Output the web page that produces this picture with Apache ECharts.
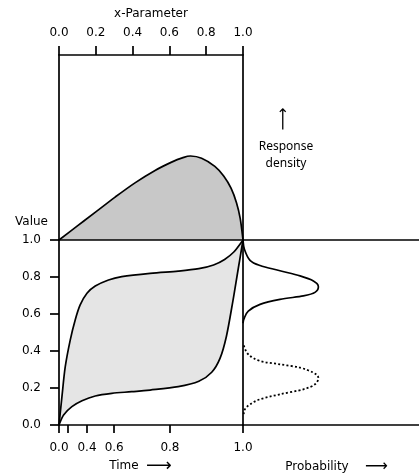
<!DOCTYPE html>
<html><head><meta charset="utf-8">
<script src="https://cdn.jsdelivr.net/npm/echarts@6/dist/echarts.min.js"></script>
<style>html,body{margin:0;padding:0;background:#fff}#c{width:419px;height:474px}</style>
</head><body><div id="c"></div>
<script>
// Time axis: tick positions (on the 0..1 drawing scale) and their labels
const timeTickPos = [0, 0.05, 0.152, 0.30, 0.603, 1.0];
const timeTickLabels = ['0.0', '0.2', '0.4', '0.6', '0.8', '1.0'];
const timeLabelPos = [0, 0.152, 0.30, 0.603, 1.0];
const valueTicks = [0, 0.2, 0.4, 0.6, 0.8, 1.0];

// Top panel: response density over x-Parameter
const topX = [0, 0.100, 0.200, 0.305, 0.413, 0.522, 0.612, 0.670, 0.715, 0.775, 0.847, 0.895, 0.935, 0.965, 0.985, 1];
const topY = [0, 0.076, 0.152, 0.232, 0.309, 0.376, 0.421, 0.444, 0.454, 0.442, 0.398, 0.346, 0.280, 0.200, 0.115, 0];

// Bottom panel: upper and lower value curves over time
const upperX = [0, 0.016, 0.034, 0.061, 0.088, 0.115, 0.152, 0.197, 0.269, 0.341, 0.495, 0.648, 0.760, 0.840, 0.900, 0.950, 1];
const upperY = [0, 0.153, 0.315, 0.459, 0.568, 0.649, 0.712, 0.751, 0.784, 0.802, 0.820, 0.832, 0.845, 0.865, 0.895, 0.935, 1];
const lowerX = [0, 0.025, 0.070, 0.125, 0.197, 0.287, 0.395, 0.495, 0.648, 0.760, 0.830, 0.875, 0.910, 0.945, 0.975, 1];
const lowerY = [0, 0.054, 0.099, 0.131, 0.157, 0.171, 0.180, 0.189, 0.207, 0.236, 0.285, 0.360, 0.480, 0.670, 0.850, 1];

// Right panel: response probability densities over value
const solidD = [0, 0.008, 0.040, 0.097, 0.210, 0.324, 0.400, 0.428, 0.409, 0.343, 0.210, 0.097, 0.030, 0.006, 0];
const solidV = [1.0, 0.950, 0.890, 0.862, 0.834, 0.806, 0.779, 0.751, 0.717, 0.698, 0.679, 0.652, 0.616, 0.575, 0.55];
const dotD = [0.004, 0.030, 0.097, 0.210, 0.324, 0.400, 0.428, 0.409, 0.343, 0.210, 0.097, 0.040, 0.011, 0.004];
const dotV = [0.430, 0.382, 0.346, 0.328, 0.310, 0.283, 0.256, 0.220, 0.193, 0.166, 0.139, 0.112, 0.085, 0.060];

const zip = (a, b) => a.map((v, i) => [v, b[i]]);
const FONT = 'DejaVu Sans';
const LW = 1.7;

// Catmull-Rom spline through pixel points, as bezier path segments
function splineSegs(pts) {
  let d = '';
  for (let i = 0; i < pts.length - 1; i++) {
    const p0 = pts[i - 1] || pts[i], p1 = pts[i], p2 = pts[i + 1], p3 = pts[i + 2] || p2;
    const c1 = [p1[0] + (p2[0] - p0[0]) / 6, p1[1] + (p2[1] - p0[1]) / 6];
    const c2 = [p2[0] - (p3[0] - p1[0]) / 6, p2[1] - (p3[1] - p1[1]) / 6];
    d += ' C' + c1[0] + ' ' + c1[1] + ' ' + c2[0] + ' ' + c2[1] + ' ' + p2[0] + ' ' + p2[1];
  }
  return d;
}
const moveTo = p => 'M' + p[0] + ' ' + p[1];
const toPx = (api, xs, ys) => xs.map((x, i) => api.coord([x, ys[i]]));

// One custom series per panel: each draws its curves from the arrays via the axes' scales
function panelSeries(xi, yi, data, build) {
  return {
    type: 'custom', xAxisIndex: xi, yAxisIndex: yi, data, clip: false, silent: true,
    renderItem: (params, api) => params.dataIndex === 0 ? { type: 'group', children: build(api) } : { type: 'group', children: [] }
  };
}

const chart = echarts.init(document.getElementById('c'), null, { renderer: 'canvas' });
const lineOnly = (extra) => Object.assign({
  type: 'value', min: 0, max: 1, z: 10,
  axisLine: { show: true, onZero: false, lineStyle: { color: '#000', width: LW } },
  axisTick: { show: false }, axisLabel: { show: false }, splitLine: { show: false }
}, extra);

chart.setOption({
  animation: false,
  backgroundColor: '#fff',
  grid: [
    { left: 59, top: 240, width: 184, height: 185, outerBoundsMode: 'none' },
    { left: 59, top: 55, width: 184, height: 185, outerBoundsMode: 'none' },
    { left: 243, top: 240, width: 176, height: 185, outerBoundsMode: 'none' }
  ],
  xAxis: [
    {
      gridIndex: 0, type: 'value', position: 'bottom', min: 0, max: 1, z: 10,
      axisLine: { show: true, onZero: false, lineStyle: { color: '#000', width: LW } },
      axisTick: { show: true, customValues: timeTickPos, length: 8, lineStyle: { color: '#000', width: LW } },
      axisLabel: {
        show: true, customValues: timeLabelPos, margin: 17, color: '#000', fontFamily: FONT, fontSize: 12,
        formatter: v => {
          let best = 0;
          timeTickPos.forEach((p, i) => { if (Math.abs(p - v) < Math.abs(timeTickPos[best] - v)) best = i; });
          return timeTickLabels[best];
        }
      },
      splitLine: { show: false }
    },
    {
      gridIndex: 1, type: 'value', position: 'top', min: 0, max: 1, interval: 0.2, z: 10,
      name: 'x-Parameter', nameLocation: 'middle', nameGap: 35,
      nameTextStyle: { color: '#000', fontFamily: FONT, fontSize: 12 },
      axisLine: { show: true, onZero: false, lineStyle: { color: '#000', width: LW } },
      axisTick: { show: true, length: 9, lineStyle: { color: '#000', width: LW } },
      axisLabel: { show: true, margin: 16, color: '#000', fontFamily: FONT, fontSize: 12, formatter: v => v.toFixed(1) },
      splitLine: { show: false }
    },
    lineOnly({ gridIndex: 1, position: 'bottom' }),
    lineOnly({ gridIndex: 2, position: 'bottom' }),
    lineOnly({ gridIndex: 2, position: 'top' })
  ],
  yAxis: [
    {
      gridIndex: 0, type: 'value', position: 'left', min: 0, max: 1, interval: 0.2, z: 10,
      name: 'Value', nameLocation: 'end', nameGap: 12,
      nameTextStyle: { color: '#000', fontFamily: FONT, fontSize: 12, align: 'right', padding: [0, 11, 0, 0] },
      axisLine: { show: true, onZero: false, lineStyle: { color: '#000', width: LW } },
      axisTick: { show: true, customValues: valueTicks, length: 9, lineStyle: { color: '#000', width: LW } },
      axisLabel: { show: true, customValues: valueTicks, margin: 18, color: '#000', fontFamily: FONT, fontSize: 12, formatter: v => v.toFixed(1) },
      splitLine: { show: false }
    },
    lineOnly({ gridIndex: 0, position: 'right' }),
    lineOnly({ gridIndex: 1, position: 'left' }),
    lineOnly({ gridIndex: 1, position: 'right' }),
    lineOnly({ gridIndex: 2, position: 'left', axisLine: { show: false } })
  ],
  series: [
    panelSeries(1, 2, zip(topX, topY), api => {
      const p = toPx(api, topX, topY);
      const curveD = moveTo(p[0]) + splineSegs(p);
      return [
        { type: 'path', shape: { pathData: curveD + ' Z' }, style: { fill: '#c8c8c8', stroke: null } },
        { type: 'path', shape: { pathData: curveD }, style: { fill: null, stroke: '#000', lineWidth: LW } }
      ];
    }),
    panelSeries(0, 0, zip(upperX, upperY), api => {
      const up = toPx(api, upperX, upperY);
      const lo = toPx(api, lowerX, lowerY);
      const upD = moveTo(up[0]) + splineSegs(up);
      const loD = moveTo(lo[0]) + splineSegs(lo);
      const fillD = upD + splineSegs(lo.slice().reverse()) + ' Z';
      return [
        { type: 'path', shape: { pathData: fillD }, style: { fill: '#e5e5e5', stroke: null } },
        { type: 'path', shape: { pathData: upD }, style: { fill: null, stroke: '#000', lineWidth: LW } },
        { type: 'path', shape: { pathData: loD }, style: { fill: null, stroke: '#000', lineWidth: LW } }
      ];
    }),
    panelSeries(3, 4, zip(solidD, solidV), api => {
      const s = toPx(api, solidD, solidV);
      const t = toPx(api, dotD, dotV);
      return [
        { type: 'path', shape: { pathData: moveTo(s[0]) + splineSegs(s) }, style: { fill: null, stroke: '#000', lineWidth: LW } },
        { type: 'path', shape: { pathData: moveTo(t[0]) + splineSegs(t) }, style: { fill: null, stroke: '#000', lineWidth: 1.8, lineDash: [2, 2.2] } }
      ];
    })
  ],
  graphic: [
    { type: 'text', z: 20, style: { text: 'Time', x: 124, y: 466, align: 'center', verticalAlign: 'middle', font: '12px "DejaVu Sans"', fill: '#000' } },
    { type: 'text', z: 20, style: { text: '⟶', x: 146, y: 466, align: 'left', verticalAlign: 'middle', font: '18px "DejaVu Sans"', fill: '#000' } },
    { type: 'text', z: 20, style: { text: 'Probability', x: 317, y: 467, align: 'center', verticalAlign: 'middle', font: '12px "DejaVu Sans"', fill: '#000' } },
    { type: 'text', z: 20, style: { text: '⟶', x: 365, y: 467, align: 'left', verticalAlign: 'middle', font: '16px "DejaVu Sans"', fill: '#000' } },
    { type: 'text', z: 20, x: 284, y: 119, rotation: Math.PI / 2, style: { text: '⟶', x: 0, y: 0, align: 'center', verticalAlign: 'middle', font: '16px "DejaVu Sans"', fill: '#000' } },
    { type: 'text', z: 20, style: { text: 'Response\ndensity', x: 286, y: 155, align: 'center', verticalAlign: 'middle', lineHeight: 17, font: '12px "Noto Sans"', fill: '#000' } }
  ]
});
</script>
</body></html>
